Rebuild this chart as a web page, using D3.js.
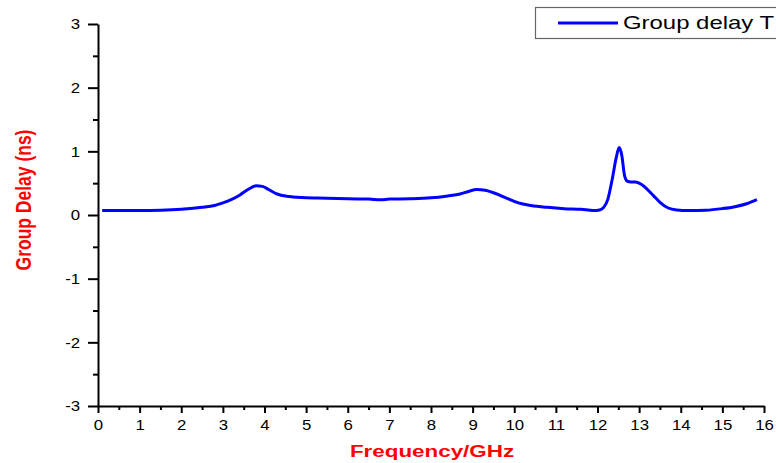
<!DOCTYPE html>
<html>
<head>
<meta charset="utf-8">
<script src="https://cdn.jsdelivr.net/npm/d3@7"></script>
<style>
  html, body { margin: 0; padding: 0; background: #fff; }
  svg { display: block; }
  text { font-family: Arial, "Liberation Sans", sans-serif; }
</style>
</head>
<body>
<svg id="chart" width="776" height="463"></svg>
<script>
// Frequency sweep (GHz) and measured group delay (ns)
const frequency = [0.1, 0.5, 1, 1.5, 2, 2.5, 2.8, 3.0, 3.2, 3.4, 3.6, 3.8, 3.95, 4.1, 4.3, 4.6,
  5, 5.5, 6, 6.5, 6.8, 7, 7.5, 8, 8.4, 8.7, 8.9, 9.1, 9.3, 9.5, 9.8, 10.1, 10.4, 10.8, 11.2,
  11.6, 11.9, 12.05, 12.15, 12.25, 12.35, 12.45, 12.52, 12.58, 12.65, 12.72, 12.8, 12.9, 13.0,
  13.1, 13.2, 13.35, 13.5, 13.7, 13.9, 14.2, 14.6, 15.0, 15.3, 15.6, 15.83];
const groupDelay = [0.07, 0.07, 0.07, 0.075, 0.09, 0.12, 0.15, 0.19, 0.24, 0.31, 0.40, 0.46, 0.45,
  0.40, 0.33, 0.29, 0.27, 0.265, 0.255, 0.25, 0.24, 0.25, 0.255, 0.27, 0.30, 0.33, 0.37, 0.40,
  0.39, 0.35, 0.27, 0.19, 0.15, 0.12, 0.10, 0.09, 0.07, 0.08, 0.12, 0.25, 0.55, 0.90, 1.06, 0.95,
  0.62, 0.53, 0.52, 0.52, 0.50, 0.46, 0.40, 0.30, 0.20, 0.11, 0.08, 0.07, 0.075, 0.10, 0.13, 0.18, 0.24];
const xTicks = d3.range(0, 17, 1);
const yTicks = [-3, -2, -1, 0, 1, 2, 3];
const seriesName = "Group delay T";

const svg = d3.select("#chart");
const plotLeft = 98, plotRight = 764, plotTop = 24, plotBottom = 406;

const x = d3.scaleLinear().domain([0, 16]).range([plotLeft, plotRight]);
const y = d3.scaleLinear().domain([-3, 3]).range([plotBottom, plotTop]);

// Minor ticks halfway between the labelled ones
const xMinor = d3.range(0.5, 16, 1);
const yMinor = d3.range(-2.5, 3, 1);
const plainNumber = d => String(d);

// X axis
const gx = svg.append("g").attr("transform", `translate(0,${plotBottom})`);
gx.call(d3.axisBottom(x).tickValues(xTicks).tickFormat(plainNumber).tickSize(7).tickSizeOuter(0));
gx.append("g").call(d3.axisBottom(x).tickValues(xMinor).tickFormat("").tickSize(4).tickSizeOuter(0))
  .select(".domain").remove();

// Y axis
const gy = svg.append("g").attr("transform", `translate(${plotLeft},0)`);
gy.call(d3.axisLeft(y).tickValues(yTicks).tickFormat(plainNumber).tickSize(10).tickSizeOuter(0));
gy.append("g").call(d3.axisLeft(y).tickValues(yMinor).tickFormat("").tickSize(5).tickSizeOuter(0))
  .select(".domain").remove();

svg.selectAll(".domain").attr("stroke", "#000").attr("stroke-width", 2);
svg.selectAll(".tick line").attr("stroke", "#000").attr("stroke-width", 2);
gx.selectAll(".tick text")
  .attr("font-size", 15).attr("fill", "#000").attr("dy", "0.95em")
  .attr("transform", "scale(1.12,1)");
gy.selectAll(".tick text")
  .attr("font-size", 15).attr("fill", "#000").attr("x", -16)
  .attr("transform", "scale(1.12,1)");

// Axis titles
svg.append("text")
  .attr("transform", "translate(432,457) scale(1.4,1)")
  .attr("text-anchor", "middle")
  .attr("font-size", 16).attr("font-weight", "bold").attr("fill", "#ff0000")
  .text("Frequency/GHz");

svg.append("text")
  .attr("transform", "translate(31,200) scale(1.3,1) rotate(-90)")
  .attr("text-anchor", "middle")
  .attr("font-size", 17.5).attr("font-weight", "bold").attr("fill", "#ff0000")
  .text("Group Delay (ns)");

// Data line
const line = d3.line()
  .x((d, i) => x(frequency[i]))
  .y(d => y(d))
  .curve(d3.curveMonotoneX);

svg.append("path")
  .datum(groupDelay)
  .attr("d", line)
  .attr("fill", "none")
  .attr("stroke", "#0000ff")
  .attr("stroke-width", 3)
  .attr("stroke-linejoin", "round");

// Legend
const lg = svg.append("g");
lg.append("rect")
  .attr("x", 535.5).attr("y", 7.5).attr("width", 260).attr("height", 31)
  .attr("fill", "#fff").attr("stroke", "#666").attr("stroke-width", 1.2);
lg.append("line")
  .attr("x1", 558).attr("x2", 618).attr("y1", 23).attr("y2", 23)
  .attr("stroke", "#0000ff").attr("stroke-width", 3);
lg.append("text")
  .attr("transform", "translate(623,29) scale(1.33,1)")
  .attr("font-size", 18).attr("fill", "#000")
  .text(seriesName);
</script>
</body>
</html>
